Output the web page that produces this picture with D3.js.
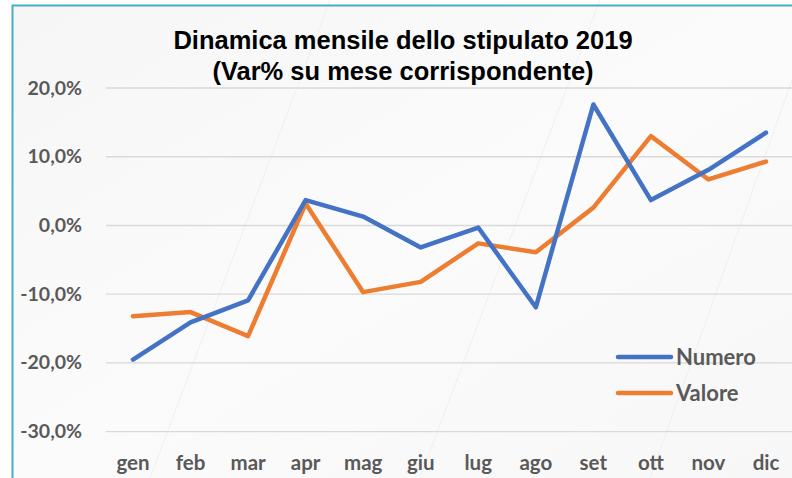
<!DOCTYPE html>
<html>
<head>
<meta charset="utf-8">
<script src="https://cdn.jsdelivr.net/npm/d3@7"></script>
<style>
  html, body { margin: 0; padding: 0; background: #fff; }
  svg { display: block; }
</style>
</head>
<body>
<div id="chart"></div>
<script>
// Dinamica mensile dello stipulato 2019 — Var% su mese corrispondente
const months = ['gen', 'feb', 'mar', 'apr', 'mag', 'giu', 'lug', 'ago', 'set', 'ott', 'nov', 'dic'];
const numero = [-19.5, -14.1, -10.9, 3.7, 1.3, -3.2, -0.3, -11.9, 17.6, 3.7, 8.1, 13.5];
const valore = [-13.2, -12.6, -16.1, 3.2, -9.7, -8.2, -2.6, -3.9, 2.6, 13.0, 6.7, 9.3];
const yTicks = [-30, -20, -10, 0, 10, 20];
const titleLines = ['Dinamica mensile dello stipulato 2019', '(Var% su mese corrispondente)'];

const W = 792, H = 478;
const BLUE = '#4472C4', ORANGE = '#ED7D31', LABEL = '#595959';

const svg = d3.select('#chart').append('svg')
  .attr('width', W).attr('height', H);

// Soft gray backdrop with diagonal streaks
const defs = svg.append('defs');
const grad = defs.append('linearGradient').attr('id', 'bg')
  .attr('x1', 0).attr('y1', 0).attr('x2', 1).attr('y2', 1);
grad.append('stop').attr('offset', '0%').attr('stop-color', '#f6f6f6');
grad.append('stop').attr('offset', '50%').attr('stop-color', '#fbfbfb');
grad.append('stop').attr('offset', '100%').attr('stop-color', '#f7f7f7');

svg.append('rect').attr('x', 12).attr('y', 5)
  .attr('width', W).attr('height', H)
  .attr('fill', 'url(#bg)');

[[150, 478, 330, 0], [420, 478, 600, 0], [650, 478, 792, 80]].forEach(([x1, y1, x2, y2]) => {
  svg.append('line')
    .attr('x1', x1).attr('y1', y1).attr('x2', x2).attr('y2', y2)
    .attr('stroke', '#efefef').attr('stroke-width', 1);
});

// Frame (top + left edges visible)
svg.append('path')
  .attr('d', `M12.5,${H} L12.5,5.5 L${W},5.5`)
  .attr('fill', 'none')
  .attr('stroke', '#4BACC6').attr('stroke-width', 2);

const x = d3.scalePoint().domain(months).range([133, 766]);
const y = d3.scaleLinear().domain([-30, 20]).range([431.7, 88]);

// Gridlines
svg.append('g').selectAll('line')
  .data(yTicks).enter().append('line')
  .attr('x1', 106).attr('x2', W)
  .attr('y1', d => y(d)).attr('y2', d => y(d))
  .attr('stroke', '#d9d9d9').attr('stroke-width', 1.3);

const fmt = v => `${v.toFixed(1).replace('.', ',')}%`;

// Y-axis labels
svg.append('g').selectAll('text')
  .data(yTicks).enter().append('text')
  .attr('x', 82).attr('y', d => y(d) + 6.5)
  .attr('text-anchor', 'end')
  .attr('font-family', 'Lato, sans-serif').attr('font-weight', 700)
  .attr('font-size', 19.5)
  .style('fill', LABEL)
  .text(fmt);

// X-axis labels
svg.append('g').selectAll('text')
  .data(months).enter().append('text')
  .attr('x', d => x(d)).attr('y', 470)
  .attr('text-anchor', 'middle')
  .attr('font-family', 'Lato, sans-serif').attr('font-weight', 700)
  .attr('font-size', 20.5)
  .style('fill', LABEL)
  .text(d => d);

// Lines
const line = d3.line()
  .x((_, i) => x(months[i]))
  .y(d => y(d));

[[valore, ORANGE], [numero, BLUE]].forEach(([vals, color]) => {
  svg.append('path').datum(vals).attr('d', line)
    .attr('fill', 'none')
    .attr('stroke', color)
    .attr('stroke-width', 4.5)
    .attr('stroke-linejoin', 'round')
    .attr('stroke-linecap', 'round');
});

// Title
svg.append('g').selectAll('text')
  .data(titleLines).enter().append('text')
  .attr('x', 403).attr('y', (_, i) => 49 + i * 31)
  .attr('text-anchor', 'middle')
  .attr('font-family', 'Liberation Sans, Arial, sans-serif').attr('font-weight', 700)
  .attr('font-size', 25.5)
  .style('fill', '#000')
  .text(d => d);

// Legend
const legend = [{ name: 'Numero', color: BLUE }, { name: 'Valore', color: ORANGE }];
const lg = svg.append('g').selectAll('g')
  .data(legend).enter().append('g')
  .attr('transform', (_, i) => `translate(618,${357 + i * 36})`);
lg.append('line')
  .attr('x1', 0).attr('x2', 53)
  .attr('stroke', d => d.color).attr('stroke-width', 4.5)
  .attr('stroke-linecap', 'round');
lg.append('text')
  .attr('x', 58).attr('y', 7.5)
  .attr('font-family', 'Lato, sans-serif').attr('font-weight', 700)
  .attr('font-size', 22)
  .style('fill', LABEL)
  .text(d => d.name);
</script>
</body>
</html>
